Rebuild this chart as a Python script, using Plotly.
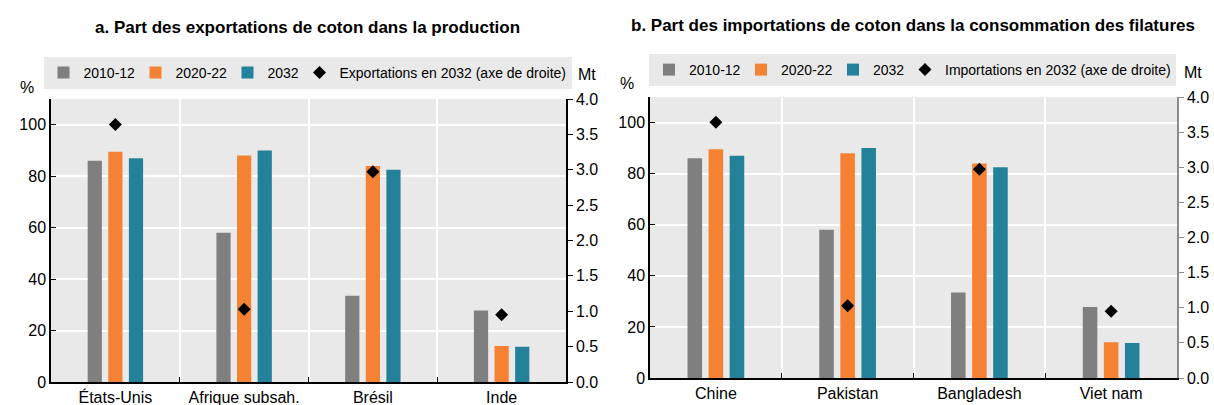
import plotly.graph_objects as go

# ---- data ----
cats_a = ["États-Unis", "Afrique subsah.", "Brésil", "Inde"]
cats_b = ["Chine", "Pakistan", "Bangladesh", "Viet nam"]
series_names = ["2010-12", "2020-22", "2032"]

exp_2010_12 = [86, 58, 33.5, 27.8]
exp_2020_22 = [89.5, 88, 84, 14]
exp_2032 = [87, 90, 82.5, 13.7]
exp_mt_2032 = [3.64, 1.03, 2.97, 0.95]

imp_2010_12 = [86, 58, 33.5, 27.8]
imp_2020_22 = [89.5, 88, 84, 14]
imp_2032 = [87, 90, 82.5, 13.7]
imp_mt_2032 = [3.64, 1.03, 2.97, 0.95]

title_a = "a. Part des exportations de coton dans la production"
title_b = "b. Part des importations de coton dans la consommation des filatures"
dot_name_a = "Exportations en 2032 (axe de droite)"
dot_name_b = "Importations en 2032 (axe de droite)"

colors = ["#7f7f7f", "#f58232", "#24819a"]
legend_widths = [47, 47, 27]
FONT = "Liberation Sans Narrow, Arial Narrow, Liberation Sans, Arial"
W, H = 1214, 405

fig = go.Figure()

panels = [
    dict(cats=cats_a, vals=[exp_2010_12, exp_2020_22, exp_2032], mt=exp_mt_2032,
         dot=dot_name_a, x="x", y="y", y2="y3", legend="legend"),
    dict(cats=cats_b, vals=[imp_2010_12, imp_2020_22, imp_2032], mt=imp_mt_2032,
         dot=dot_name_b, x="x2", y="y2", y2="y4", legend="legend2"),
]

for p in panels:
    for name, v, c, lw in zip(series_names, p["vals"], colors, legend_widths):
        fig.add_trace(go.Bar(x=p["cats"], y=v, name=name, marker_color=c,
                             marker_line_width=0, xaxis=p["x"], yaxis=p["y"],
                             legend=p["legend"], legendwidth=lw))
    fig.add_trace(go.Scatter(x=p["cats"], y=p["mt"], name=p["dot"], mode="markers",
                             marker=dict(symbol="diamond", size=10, color="black"),
                             xaxis=p["x"], yaxis=p["y2"], legend=p["legend"]))

def px(x0, x1):
    return [x0 / W, x1 / W]

def py(top, bottom):
    return [1 - bottom / H, 1 - top / H]

dom_a_x = px(51, 566)
dom_b_x = px(650, 1177)
dom_a_y = py(99, 382)
dom_b_y = py(97, 378)

tickfont = dict(family=FONT, size=16, color="#000")

def xax(dom, anchor):
    return dict(domain=dom, anchor=anchor, type="category", tickson="boundaries",
                ticks="inside", ticklen=5, tickcolor="#000", showgrid=True,
                gridcolor="white", gridwidth=1.5, showline=True, linecolor="#000",
                linewidth=1.5, tickfont=tickfont, automargin=False, fixedrange=True)

def yleft(dom, anchor):
    return dict(domain=dom, anchor=anchor, range=[0, 110], tickvals=[0, 20, 40, 60, 80, 100],
                ticks="inside", ticklen=5, tickcolor="#000", showgrid=True,
                gridcolor="white", gridwidth=1.5, showline=True, linecolor="#000",
                linewidth=1.5, tickfont=tickfont, zeroline=False, automargin=False)

def yright(overlay, anchor, lc):
    return dict(overlaying=overlay, anchor=anchor, side="right", range=[0, 4],
                tickvals=[0, 0.5, 1, 1.5, 2, 2.5, 3, 3.5, 4], tickformat=".1f",
                ticks="outside", ticklen=5, tickcolor=lc, showgrid=False,
                showline=True, linecolor=lc, linewidth=1.5, tickfont=tickfont,
                zeroline=False, automargin=False)

legend_common = dict(orientation="h", bgcolor="#e9e9e9", font=dict(family=FONT, size=14, color="#000"),
                     itemwidth=30, xanchor="center", yanchor="middle", tracegroupgap=0,
                     itemclick=False, itemdoubleclick=False)

def ann(text, x, y, size=16):
    return dict(text=text, x=x / W, y=1 - y / H, xref="paper", yref="paper",
                xanchor="center", yanchor="middle", showarrow=False,
                font=dict(family=FONT, size=size, color="#000"))

fig.update_layout(
    width=W, height=H,
    margin=dict(l=0, r=0, t=0, b=0),
    paper_bgcolor="white", plot_bgcolor="#e9e9e9",
    barmode="group", bargap=0.52, bargroupgap=0.31,
    showlegend=True,
    font=dict(family=FONT, size=16, color="#000"),
    xaxis=xax(dom_a_x, "y"),
    yaxis=yleft(dom_a_y, "x"),
    yaxis3=yright("y", "x", "#000"),
    xaxis2=xax(dom_b_x, "y2"),
    yaxis2=yleft(dom_b_y, "x2"),
    yaxis4=yright("y2", "x2", "#8c8c8c"),
    legend=dict(**legend_common, x=(57 + 558) / 2 / W, y=1 - 73 / H),
    legend2=dict(**legend_common, x=(650 + 1175) / 2 / W, y=1 - 70 / H),
    annotations=[
        ann("<b>" + title_a + "</b>", 307, 28, 17),
        ann("<b>" + title_b + "</b>", 913, 25, 17),
        ann("%", 27, 88),
        ann("Mt", 587, 75),
        ann("%", 627, 83),
        ann("Mt", 1193, 72),
    ],
)

fig.write_html("out.html", config={"displayModeBar": False},
               post_script="document.body.style.margin='0';document.body.style.overflow='hidden';")
